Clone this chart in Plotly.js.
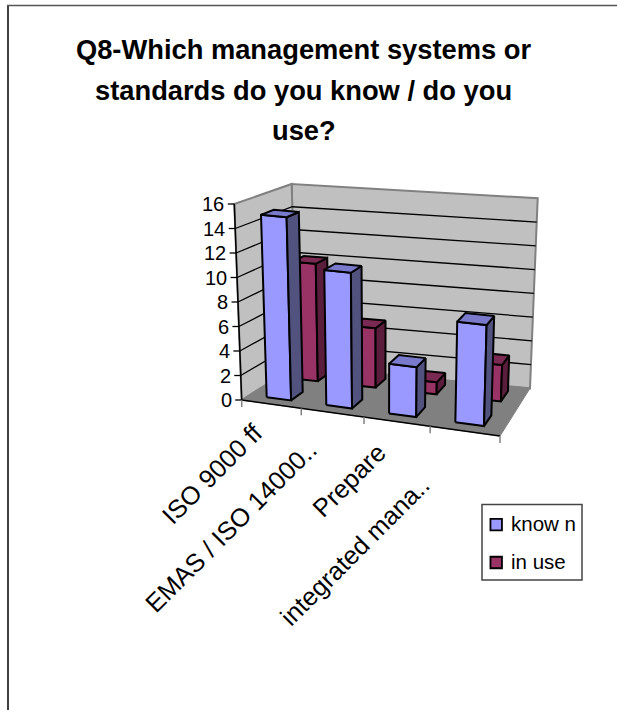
<!DOCTYPE html>
<html>
<head>
<meta charset="utf-8">
<script src="https://cdn.plot.ly/plotly-3.0.1.min.js"></script>
<style>html,body{margin:0;padding:0;background:#fff}#chart{width:617px;height:710px}</style>
</head>
<body>
<div id="chart"></div>
<script>
// Survey answers per management system
const categories = ["ISO 9000 ff", "EMAS / ISO 14000..", "Prepare", "integrated mana.."];
const known = [15, 11, 4, 8];
const inUse = [10, 5, 1, 3];
const valueTicks = [0, 2, 4, 6, 8, 10, 12, 14, 16];
const titleLines = ["Q8-Which management systems or", "standards do you know / do you", "use?"];
const seriesNames = ["know n", "in use"];
const seriesColors = ["#9999FF", "#993366"];

// Screen positions of the eight corners of the 3-D plot box
const box = {
  flb: [241.7, 400], frb: [500, 436], blb: [296, 366], brb: [530, 388.3],
  flt: [234.3, 204], frt: [506, 231], blt: [291.7, 184], brt: [537.7, 198.3]
};
const VMAX = 16;
const perspective = 1.112;
const widen = u => u / (u + perspective * (1 - u));
const mix = (a, b, t) => [a[0] + (b[0] - a[0]) * t, a[1] + (b[1] - a[1]) * t];

// Category position u (0-1), value, depth w (0 front, 1 back) to screen x/y
function project(u, value, w) {
  const s = widen(u), v = value / VMAX;
  const bottom = mix(mix(box.flb, box.frb, s), mix(box.blb, box.brb, s), w);
  const top = mix(mix(box.flt, box.frt, s), mix(box.blt, box.brt, s), w);
  return mix(bottom, top, v);
}

function poly(points, fill, line, width) {
  const closed = points.concat([points[0]]);
  return {
    x: closed.map(p => p[0]), y: closed.map(p => p[1]),
    mode: "lines", fill: fill ? "toself" : "none", fillcolor: fill,
    line: {color: line, width: width}, showlegend: false, hoverinfo: "skip", type: "scatter"
  };
}
function path(points, color, width) {
  return {
    x: points.map(p => p ? p[0] : null), y: points.map(p => p ? p[1] : null),
    mode: "lines", line: {color: color, width: width},
    showlegend: false, hoverinfo: "skip", type: "scatter"
  };
}

const traces = [];

// Walls and floor
traces.push(poly([project(0, 0, 1), project(1, 0, 1), project(1, VMAX, 1), project(0, VMAX, 1)], "#C0C0C0", "#808080", 2));
traces.push(poly([project(0, 0, 0), project(0, 0, 1), project(0, VMAX, 1), project(0, VMAX, 0)], "#C0C0C0", "#808080", 2));
traces.push(poly([project(0, 0, 0), project(1, 0, 0), project(1, 0, 1), project(0, 0, 1)], "#808080", "#808080", 1));

// Gridlines run along the side wall and then the back wall
const grid = [];
valueTicks.slice(1, -1).forEach(t => { grid.push(project(0, t, 0), project(0, t, 1), project(1, t, 1), null); });
traces.push(path(grid, "#000000", 1.3));

// Axis lines and tick marks
traces.push(path([project(0, VMAX, 0), project(0, 0, 0), project(1, 0, 0)], "#000000", 1.5));
const yTicks = [];
valueTicks.forEach(t => { const p = project(0, t, 0); yTicks.push([p[0] - 6.5, p[1]], p, null); });
traces.push(path(yTicks, "#000000", 1.3));
const xTicks = [];
categories.concat([""]).forEach((c, i) => { const p = project(i / categories.length, 0, 0); xTicks.push(p, [p[0], p[1] + 7], null); });
traces.push(path(xTicks, "#808080", 1.5));

// One column: front, side and top faces
const half = 0.052;
function column(i, value, w0, w1, front, side, top) {
  const u = (i + 0.5) / categories.length, a = u - half, b = u + half;
  traces.push(poly([project(a, 0, w0), project(b, 0, w0), project(b, value, w0), project(a, value, w0)], front, "#000000", 2));
  traces.push(poly([project(b, 0, w0), project(b, 0, w1), project(b, value, w1), project(b, value, w0)], side, "#000000", 2));
  traces.push(poly([project(a, value, w0), project(b, value, w0), project(b, value, w1), project(a, value, w1)], top, "#000000", 2));
}
inUse.forEach((v, i) => column(i, v, 0.68, 0.9, seriesColors[1], "#5A1E3C", "#7A2952"));
known.forEach((v, i) => column(i, v, 0.15, 0.38, seriesColors[0], "#52527F", "#7A7ACC"));

const font = "'Liberation Sans', Arial, sans-serif";
const annotations = [];

// Legend keys and labels inside a framed box
const legendRows = [524.7, 562.5];
seriesNames.forEach((name, i) => {
  traces.push({
    x: [496.2], y: [legendRows[i]], name: name, type: "scatter", mode: "markers", showlegend: false, hoverinfo: "skip",
    marker: {symbol: "square", size: 11.5, color: seriesColors[i], line: {color: "#000000", width: 1.8}}
  });
  annotations.push({
    text: name, xref: "x", yref: "y", x: 510, y: legendRows[i] - 1, xanchor: "left", yanchor: "middle",
    showarrow: false, font: {family: font, size: 20.5, color: "#000"}, borderpad: 0
  });
});

// Title lines after the first
titleLines.slice(1).forEach((t, i) => annotations.push({
  text: "<b>" + t + "</b>", xref: "x", yref: "y", x: 303.5, y: 90 + 40.8 * i, yanchor: "middle",
  xanchor: "center", showarrow: false, font: {family: font, size: 27.3, color: "#000"}, borderpad: 0
}));

// Value labels beside the side wall
valueTicks.forEach(t => {
  const p = project(0, t, 0);
  annotations.push({
    text: String(t), xref: "x", yref: "y", x: p[0] - 9, y: p[1], xanchor: "right", yanchor: "middle",
    showarrow: false, font: {family: font, size: 20, color: "#000"}, borderpad: 0
  });
});

// Slanted category labels hang from their tick positions
const labelAnchors = [[269, 417.5], [324, 433.5], [393, 437], [436, 470]];
categories.forEach((c, i) => annotations.push({
  text: c, xref: "x", yref: "y", x: labelAnchors[i][0], y: labelAnchors[i][1], xanchor: "right", yanchor: "top",
  textangle: -45, showarrow: false, font: {family: font, size: 25.5, color: "#000"}, borderpad: 0
}));

const layout = {
  width: 617, height: 710, margin: {l: 0, r: 0, t: 0, b: 0},
  paper_bgcolor: "#fff", plot_bgcolor: "#fff",
  title: {text: "<b>" + titleLines[0] + "</b>", x: 303.5 / 617, xanchor: "center", y: 1 - 49.5 / 710, yanchor: "middle",
          font: {family: font, size: 27.3, color: "#000"}},
  xaxis: {range: [0, 617], visible: false, fixedrange: true},
  yaxis: {range: [710, 0], visible: false, fixedrange: true},
  showlegend: false,
  annotations: annotations,
  shapes: [
    {type: "line", xref: "x", yref: "y", x0: 8, x1: 8, y0: 5, y1: 710, line: {color: "#404040", width: 2}},
    {type: "line", xref: "x", yref: "y", x0: 7, x1: 617, y0: 5.5, y1: 5.5, line: {color: "#555", width: 1.5}},
    {type: "rect", xref: "x", yref: "y", x0: 482, x1: 582, y0: 504.5, y1: 580, line: {color: "#444", width: 1.5}, fillcolor: "#fff", layer: "below"}
  ]
};

Plotly.newPlot("chart", traces, layout, {displayModeBar: false, staticPlot: true});
</script>
</body>
</html>
